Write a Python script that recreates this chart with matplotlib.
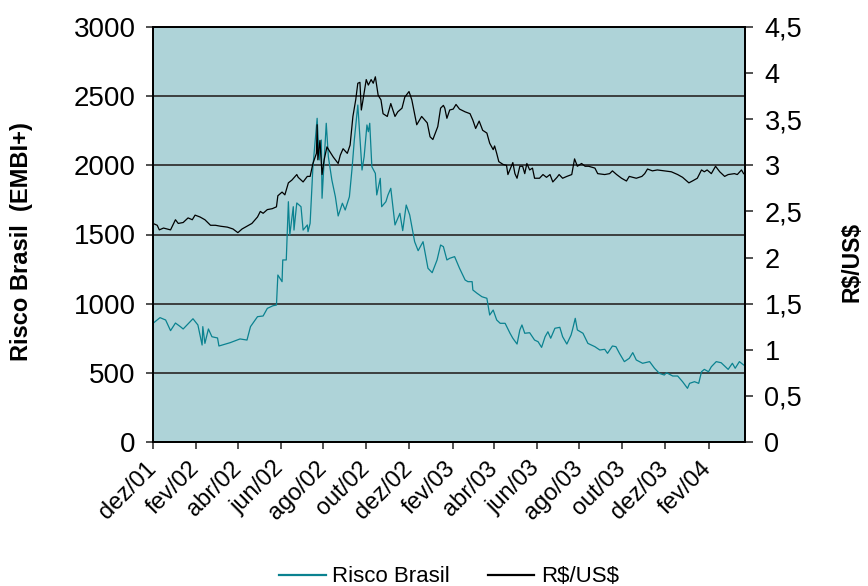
import matplotlib
matplotlib.use('Agg')
import matplotlib.pyplot as plt
import matplotlib.transforms as mtransforms
from matplotlib.lines import Line2D
import numpy as np

plt.rcParams['font.family'] = ['Liberation Sans', 'DejaVu Sans']
plt.rcParams['text.parse_math'] = False

# ---- data (days since 2001-12-01) ----
start_date = '2001-12-01'
end_day = 844

risco_days = [0, 10, 18, 25, 32, 39, 43, 57, 64, 70, 71, 74, 79, 84, 92, 94, 110, 124, 134, 139,
              149, 157, 163, 171, 176, 178, 184, 185, 190, 193, 195, 200, 201, 205, 211, 214, 220,
              221, 224, 228, 234, 237, 240, 241, 247, 250, 255, 260, 264, 270, 274, 280, 284, 287,
              292, 295, 298, 301, 305, 307, 309, 312, 317, 319, 324, 326, 332, 335, 339, 345, 352,
              356, 361, 366, 373, 378, 385, 392, 398, 405, 410, 414, 419, 423, 430, 437, 445, 449,
              455, 456, 462, 469, 476, 480, 485, 490, 495, 502, 509, 513, 519, 523, 526, 530, 537,
              544, 549, 554, 559, 563, 567, 573, 580, 584, 590, 596, 598, 602, 605, 613, 620, 630,
              637, 644, 648, 655, 660, 665, 672, 679, 684, 689, 698, 708, 715, 722, 729, 732, 741,
              748, 755, 762, 765, 772, 778, 782, 786, 792, 796, 803, 810, 815, 820, 826, 830, 836,
              842]
risco_vals = [858, 899, 882, 805, 860, 834, 817, 891, 846, 701, 834, 713, 817, 761, 752, 694, 718,
              745, 737, 834, 906, 911, 966, 985, 990, 1207, 1159, 1316, 1316, 1737, 1496, 1701,
              1532, 1728, 1701, 1532, 1569, 1520, 1581, 1990, 2340, 2039, 2183, 1762, 2304, 2062,
              1894, 1773, 1634, 1726, 1677, 1773, 1990, 2183, 2436, 2207, 1966, 2062, 2292, 2243,
              2304, 1990, 1942, 1786, 1906, 1701, 1737, 1786, 1834, 1569, 1653, 1528, 1713, 1641,
              1448, 1383, 1448, 1256, 1224, 1316, 1424, 1412, 1316, 1328, 1340, 1256, 1171, 1159,
              1159, 1099, 1075, 1050, 1039, 918, 954, 882, 858, 858, 786, 750, 708, 810, 846, 786,
              790, 737, 725, 684, 761, 797, 750, 822, 829, 761, 708, 773, 810, 894, 810, 786, 713,
              689, 665, 670, 641, 694, 689, 641, 581, 605, 646, 593, 569, 581, 533, 496, 484, 501,
              477, 477, 436, 388, 424, 436, 424, 508, 525, 508, 544, 581, 573, 549, 525, 569, 533,
              581, 557]

fx_days = [0, 6, 9, 15, 25, 32, 36, 43, 50, 56, 60, 67, 74, 82, 89, 96, 106, 114, 121, 127, 134,
           141, 149, 153, 157, 163, 170, 176, 178, 184, 188, 193, 198, 205, 207, 214, 220, 224, 228,
           233, 234, 235, 238, 241, 244, 248, 252, 257, 264, 267, 271, 277, 281, 285, 289, 292, 295,
           297, 299, 304, 307, 311, 314, 317, 321, 325, 328, 334, 339, 345, 349, 355, 359, 365, 369,
           376, 383, 391, 395, 399, 406, 410, 414, 416, 419, 423, 428, 432, 437, 445, 452, 456, 460,
           465, 470, 476, 480, 485, 487, 490, 493, 499, 504, 506, 513, 516, 519, 523, 527, 530, 533,
           537, 541, 544, 551, 556, 561, 566, 570, 576, 579, 584, 590, 597, 601, 605, 611, 616, 621,
           630, 634, 644, 651, 655, 661, 668, 675, 679, 689, 697, 701, 705, 712, 719, 729, 739, 748,
           755, 764, 769, 776, 782, 786, 790, 796, 802, 808, 815, 820, 829, 833, 839, 842]
fx_vals = [2.37, 2.35, 2.30, 2.32, 2.30, 2.41, 2.37, 2.38, 2.43, 2.41, 2.46, 2.44, 2.41, 2.35,
           2.35, 2.34, 2.33, 2.31, 2.27, 2.31, 2.34, 2.37, 2.44, 2.50, 2.48, 2.52, 2.53, 2.55,
           2.67, 2.71, 2.68, 2.81, 2.84, 2.90, 2.87, 2.82, 2.88, 2.88, 3.02, 3.13, 3.44, 3.06,
           3.27, 2.90, 3.06, 3.20, 3.15, 3.09, 3.02, 3.11, 3.18, 3.13, 3.22, 3.53, 3.71, 3.89,
           3.90, 3.60, 3.69, 3.93, 3.87, 3.93, 3.89, 3.96, 3.76, 3.71, 3.56, 3.53, 3.67, 3.53,
           3.58, 3.62, 3.74, 3.80, 3.71, 3.44, 3.53, 3.46, 3.31, 3.28, 3.42, 3.62, 3.65, 3.62,
           3.51, 3.60, 3.61, 3.66, 3.61, 3.58, 3.56, 3.49, 3.40, 3.48, 3.38, 3.35, 3.24, 3.17,
           3.21, 3.13, 3.04, 3.01, 3.00, 2.90, 3.03, 2.91, 2.86, 2.99, 2.99, 2.91, 3.02, 2.95,
           2.97, 2.86, 2.86, 2.90, 2.87, 2.90, 2.82, 2.87, 2.90, 2.86, 2.88, 2.90, 3.07, 2.99,
           3.02, 2.99, 2.99, 2.97, 2.91, 2.90, 2.91, 2.94, 2.90, 2.86, 2.83, 2.88, 2.86, 2.88,
           2.91, 2.96, 2.94, 2.95, 2.94, 2.93, 2.90, 2.87, 2.81, 2.83, 2.86, 2.95, 2.93, 2.95,
           2.91, 2.99, 2.93, 2.88, 2.90, 2.91, 2.90, 2.95, 2.91]

tick_dates = ['2001-12-01', '2002-02-01', '2002-04-01', '2002-06-01', '2002-08-01', '2002-10-01',
              '2002-12-01', '2003-02-01', '2003-04-01', '2003-06-01', '2003-08-01', '2003-10-01',
              '2003-12-01', '2004-02-01']
tick_labels = ['dez/01', 'fev/02', 'abr/02', 'jun/02', 'ago/02', 'out/02', 'dez/02', 'fev/03',
               'abr/03', 'jun/03', 'ago/03', 'out/03', 'dez/03', 'fev/04']

left_ticks = [0, 500, 1000, 1500, 2000, 2500, 3000]
left_labels = ['0', '500', '1000', '1500', '2000', '2500', '3000']
right_ticks = [0, 0.5, 1, 1.5, 2, 2.5, 3, 3.5, 4, 4.5]
right_labels = ['0', '0,5', '1', '1,5', '2', '2,5', '3', '3,5', '4', '4,5']

series_names = ['Risco Brasil', 'R$/US$']

# ---- figure ----
W, H = 868, 586
fig = plt.figure(figsize=(W / 100, H / 100), dpi=100)
ax = fig.add_axes([153 / W, 1 - 442 / H, 592 / W, 415 / H])

start = np.datetime64(start_date)
risco_x = start + np.array(risco_days).astype('timedelta64[D]')
fx_x = start + np.array(fx_days).astype('timedelta64[D]')

teal = '#0A8290'
bg = '#AED3D8'

ax.set_facecolor(bg)
ax.plot(risco_x, risco_vals, color=teal, lw=0.9)
ax.set_ylim(0, 3000)
ax.set_xlim(start, start + np.timedelta64(end_day, 'D'))
ax.grid(axis='y', color='#333333', lw=1.3)
ax.set_axisbelow(True)

ax.tick_params(axis='y', direction='out', length=5, width=1.2, pad=7.5, color='#333333')
ax.tick_params(axis='x', direction='out', length=5, width=1.2, pad=6, color='#333333')

ax.set_yticks(left_ticks)
ax.set_yticklabels(left_labels, fontsize=20)
ax.set_xticks(np.array(tick_dates, dtype='datetime64[D]'))
ax.set_xticklabels(tick_labels, rotation=45, ha='right', rotation_mode='anchor', fontsize=17)

ax2 = ax.twinx()
ax2.plot(fx_x, fx_vals, color='black', lw=0.9)
ax2.set_ylim(0, 4.5)
ax2.tick_params(axis='y', direction='out', length=6, width=1.2, pad=8, color='#333333')
ax2.set_yticks(right_ticks)
ax2.set_yticklabels(right_labels, fontsize=19.5)

for a in (ax, ax2):
    for s in a.spines.values():
        s.set_color('black')
        s.set_linewidth(1.3)

offset = mtransforms.ScaledTranslation(-8 / 100, 0, fig.dpi_scale_trans)
for lbl in ax.get_xticklabels():
    lbl.set_transform(lbl.get_transform() + offset)

fig.text(22 / W, 1 - 242 / H, 'Risco Brasil  (EMBI+)', rotation=90, fontsize=17,
         fontweight='bold', ha='center', va='center')
fig.text(852 / W, 1 - 262 / H, 'R$/US$', rotation=90, fontsize=16.5,
         fontweight='bold', ha='center', va='center')

handles = [Line2D([], [], color=teal, lw=1.6), Line2D([], [], color='black', lw=1.6)]
fig.legend(handles, series_names, loc='center', bbox_to_anchor=(449 / W, 1 - 577 / H),
           ncol=2, frameon=False, fontsize=16, handlelength=2.1, handletextpad=0.3,
           columnspacing=1.7)

fig.savefig('out.png', dpi=100)
